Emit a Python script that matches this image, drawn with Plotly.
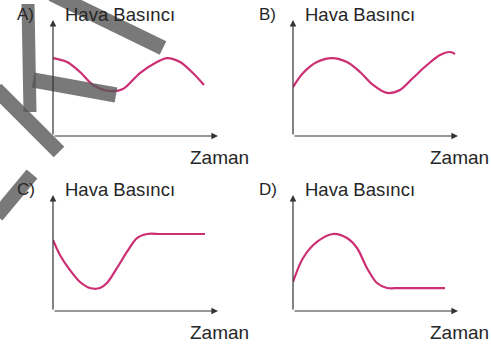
import plotly.graph_objects as go

W, H = 491, 349

# ---- data (abstract units: time 0..10, pressure 0..10) ----
a_time = [0, 0.85, 1.64, 2.42, 3.45, 4.24, 5.27, 6.30, 6.91, 7.70, 8.48, 9.15]
a_pressure = [6.72, 6.38, 5.52, 4.40, 3.88, 4.05, 5.43, 6.38, 6.72, 6.38, 5.43, 4.40]

b_time = [0, 0.61, 1.45, 2.36, 3.27, 4.06, 4.85, 5.70, 6.48, 7.27, 8.12, 8.91, 9.52, 9.82]
b_pressure = [4.22, 5.43, 6.38, 6.72, 6.38, 5.52, 4.40, 3.71, 3.97, 5.00, 6.12, 6.98, 7.24, 7.07]

c_time = [0, 0.42, 1.03, 1.64, 2.24, 2.85, 3.27, 3.88, 4.48, 5.09, 5.70, 6.48, 7.5, 8.5, 9.21]
c_pressure = [6.12, 4.83, 3.53, 2.50, 1.98, 1.98, 2.41, 3.71, 5.09, 6.29, 6.64, 6.64, 6.64, 6.64, 6.64]

d_time = [0, 0.61, 1.45, 2.42, 3.27, 3.88, 4.48, 5.09, 5.70, 6.48, 7.5, 8.5, 9.21]
d_pressure = [2.50, 4.57, 5.95, 6.64, 6.29, 5.43, 3.71, 2.41, 1.98, 1.98, 1.98, 1.98, 1.98]

panel_letters = ["A)", "B)", "C)", "D)"]
y_title = "Hava Basıncı"
x_title = "Zaman"

series = [(a_time, a_pressure), (b_time, b_pressure), (c_time, c_pressure), (d_time, d_pressure)]

# ---- layout geometry (pixels) ----
# (left px of y axis, bottom px of x axis)
origins = [(53, 136), (293, 136), (53, 311), (293, 311)]
XLEN, YLEN = 165, 116

def px(x):
    return x / W

def py(y):
    return 1 - y / H

LINE_COLOR = "#cc2f73"
AXIS_COLOR = "#333333"
TEXT_COLOR = "#262626"
FONT = "Liberation Sans, Arial, sans-serif"

fig = go.Figure()
layout = dict(
    width=W, height=H, margin=dict(l=0, r=0, t=0, b=0),
    paper_bgcolor="white", plot_bgcolor="white", showlegend=False,
)
annotations = []
shapes = []

for i, ((t, p), (ox, oy)) in enumerate(zip(series, origins)):
    n = "" if i == 0 else str(i + 1)
    xa, ya = "x" + n, "y" + n
    layout["xaxis" + n] = dict(domain=[px(ox), px(ox + XLEN)], range=[0, 10], anchor=ya,
                               showgrid=False, zeroline=False, showticklabels=False,
                               showline=False, ticks="", fixedrange=True)
    layout["yaxis" + n] = dict(domain=[py(oy), py(oy - YLEN)], range=[0, 10], anchor=xa,
                               showgrid=False, zeroline=False, showticklabels=False,
                               showline=False, ticks="", fixedrange=True)
    fig.add_trace(go.Scatter(x=t, y=p, mode="lines", xaxis=xa, yaxis=ya,
                             line=dict(color=LINE_COLOR, width=2.2, shape="spline", smoothing=0.9),
                             hoverinfo="skip", cliponaxis=False))
    # axes with arrows
    for (xt, yt) in [(10, 0), (0, 10)]:
        annotations.append(dict(x=xt, y=yt, ax=0, ay=0, xref=xa, yref=ya, axref=xa, ayref=ya,
                                showarrow=True, arrowhead=2, arrowsize=1.1, arrowwidth=1.2,
                                arrowcolor=AXIS_COLOR, text=""))
    # texts
    annotations.append(dict(x=px(ox - 38 if i % 2 == 0 else ox - 36), y=py(oy - 122), xref="paper", yref="paper",
                            text=panel_letters[i], showarrow=False, xanchor="left", yanchor="middle",
                            font=dict(family=FONT, size=17, color=TEXT_COLOR)))
    annotations.append(dict(x=px(ox + 10), y=py(oy - 122), xref="paper", yref="paper",
                            text=y_title, showarrow=False, xanchor="left", yanchor="middle",
                            font=dict(family=FONT, size=18.5, color=TEXT_COLOR)))
    annotations.append(dict(x=px(ox + 166), y=py(oy + 21), xref="paper", yref="paper",
                            text=x_title, showarrow=False, xanchor="center", yanchor="middle",
                            font=dict(family=FONT, size=19, color=TEXT_COLOR)))

# decorative watermark strokes (scan artifact)
wm = "rgba(88,88,88,0.8)"
for (x0, y0, x1, y1, w) in [
    (52, -6, 163, 48, 15),
    (28, 4, 30, 112, 13),
    (-4, 89, 59, 152, 15),
    (33, 80, 116, 95, 15),
    (-3, 216, 32, 174, 14),
]:
    shapes.append(dict(type="line", xref="paper", yref="paper",
                       x0=px(x0), y0=py(y0), x1=px(x1), y1=py(y1),
                       line=dict(color=wm, width=w), layer="above"))

layout["annotations"] = annotations
layout["shapes"] = shapes
fig.update_layout(**layout)
fig.write_html("out.html", config={"displayModeBar": False},
               post_script="document.body.style.margin='0px';document.body.style.overflow='hidden';")
